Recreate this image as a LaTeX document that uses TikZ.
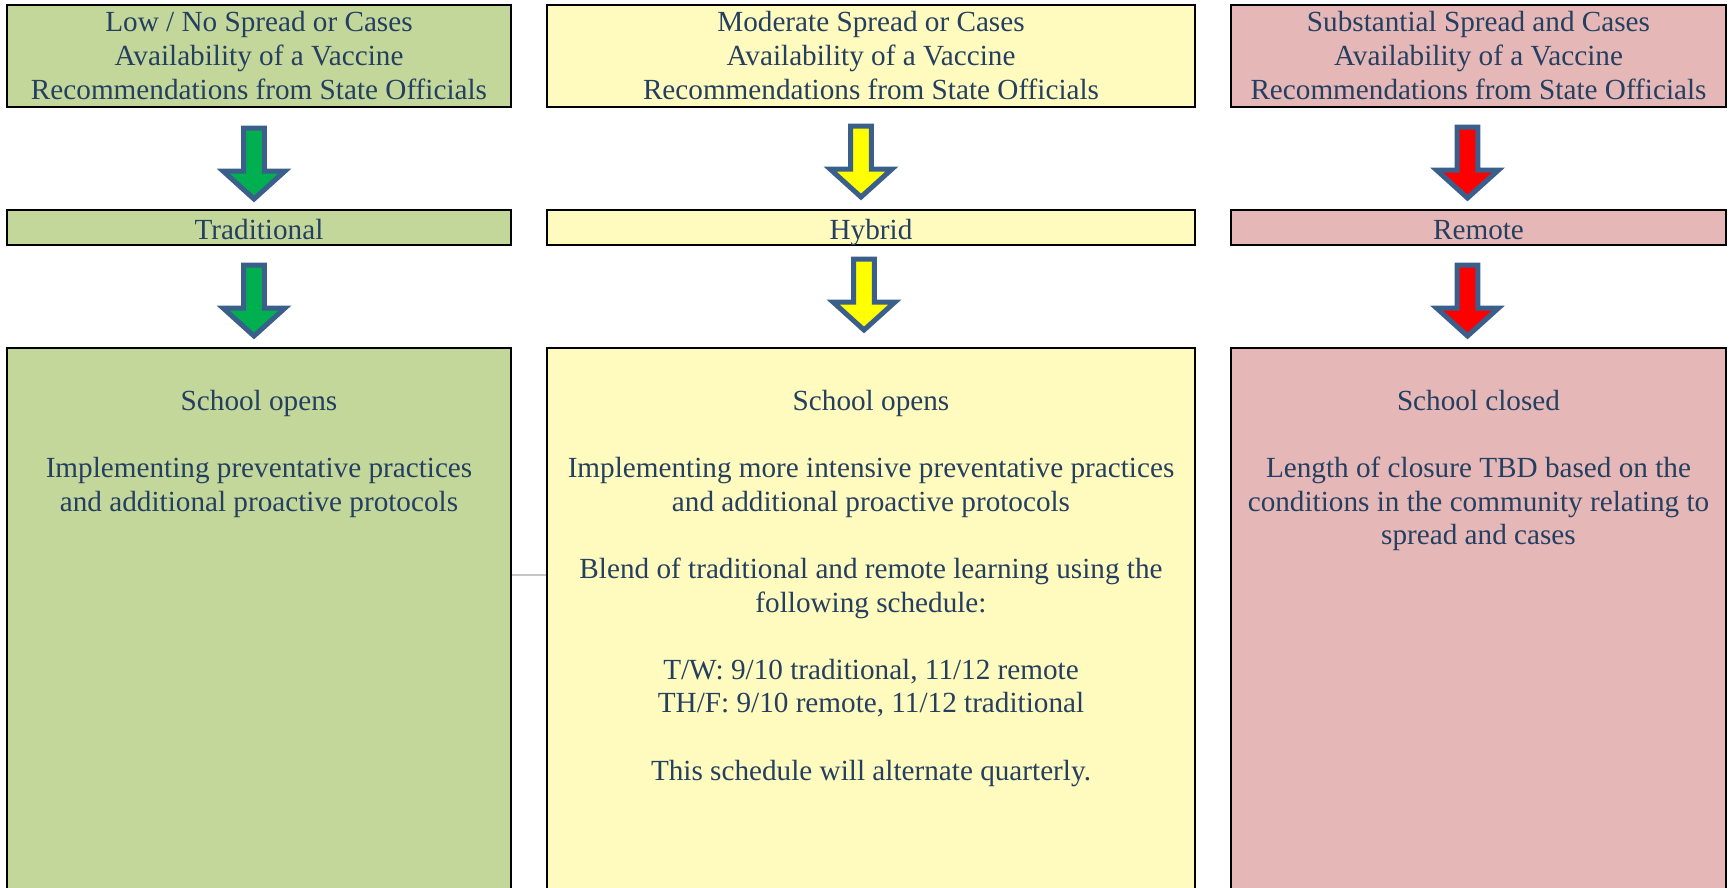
\documentclass[tikz,border=0pt]{standalone}
\usepackage{fontspec}
\setmainfont{Liberation Serif}
\usetikzlibrary{calc}
\definecolor{txtblue}{HTML}{243F60}
\definecolor{lowfill}{HTML}{C4D79B}
\definecolor{modfill}{HTML}{FFFABD}
\definecolor{subfill}{HTML}{E5B7B7}
\definecolor{arrgreen}{HTML}{00B050}
\definecolor{arryellow}{HTML}{FFFF00}
\definecolor{arrred}{HTML}{FF0000}
\definecolor{arrblue}{HTML}{3A5F8B}
\tikzset{
  condbox/.style={draw=black, line width=2, minimum height=102, inner sep=0, align=center,
    text=txtblue, font=\fontsize{29.2}{34}\selectfont},
  modebox/.style={draw=black, line width=2, minimum height=35, inner sep=0,
    text height=23, text depth=0, text=txtblue, font=\fontsize{29.2}{34}\selectfont},
  bodybox/.style={draw=black, line width=2, minimum height=600, anchor=north},
  bodytext/.style={anchor=north, align=center, inner sep=0, text=txtblue,
    font=\fontsize{29.2}{33.6}\selectfont},
  arrowline/.style={draw=arrblue, line width=5},
  pics/blockarrow/.style={code={
    \draw[arrowline, fill=#1] (-10.4,-35.5) -- (10.4,-35.5) -- (10.4,7.5) -- (31,7.5)
      -- (0,35.5) -- (-31,7.5) -- (-10.4,7.5) -- cycle;}}
}
\begin{document}
\begin{tikzpicture}[x=1pt,y=-1pt]
\useasboundingbox (0,0) rectangle (1733,887);
\clip (0,0) rectangle (1733,887);
% conditions
\node[condbox, fill=lowfill, minimum width=504] (lowcond) at (259,56)
  {Low / No Spread or Cases\\Availability of a Vaccine\\Recommendations from State Officials};
\node[condbox, fill=modfill, minimum width=648] (modcond) at (871,56)
  {Moderate Spread or Cases\\Availability of a Vaccine\\Recommendations from State Officials};
\node[condbox, fill=subfill, minimum width=495] (subcond) at (1478.5,56)
  {Substantial Spread and Cases\\Availability of a Vaccine\\Recommendations from State Officials};
% modes
\node[modebox, fill=lowfill, minimum width=504] (trad) at (259,227.5) {Traditional};
\node[modebox, fill=modfill, minimum width=648] (hybrid) at (871,227.5) {Hybrid};
\node[modebox, fill=subfill, minimum width=495] (remote) at (1478.5,227.5) {Remote};
% plans
\node[bodybox, fill=lowfill, minimum width=504] (lowbody) at (259,347) {};
\node[bodybox, fill=modfill, minimum width=648] (modbody) at (871,347) {};
\node[bodybox, fill=subfill, minimum width=495] (subbody) at (1478.5,347) {};
\node[bodytext] (lowtxt) at ([yshift=-43pt]lowbody.north)
  {School opens\\[33.6pt]Implementing preventative practices\\and additional proactive protocols};
\node[bodytext] (modtxt) at ([yshift=-43pt]modbody.north)
  {School opens\\[33.6pt]Implementing more intensive preventative practices\\and additional proactive protocols\\[33.6pt]
   Blend of traditional and remote learning using the\\following schedule:\\[33.6pt]
   T/W: 9/10 traditional, 11/12 remote\\TH/F: 9/10 remote, 11/12 traditional\\[33.6pt]
   This schedule will alternate quarterly.};
\node[bodytext] (subtxt) at ([yshift=-43pt]subbody.north)
  {School closed\\[33.6pt]Length of closure TBD based on the\\conditions in the community relating to\\spread and cases};
% arrows
\pic at ($(lowcond.south)!0.5!(trad.north)+(-5,5)$) {blockarrow=arrgreen};
\pic at ($(trad.south)!0.5!(lowbody.north)+(-5,4)$) {blockarrow=arrgreen};
\pic at ($(modcond.south)!0.5!(hybrid.north)+(-10,3)$) {blockarrow=arryellow};
\pic at ($(hybrid.south)!0.5!(modbody.north)+(-7,-2)$) {blockarrow=arryellow};
\pic at ($(subcond.south)!0.5!(remote.north)+(-11,4)$) {blockarrow=arrred};
\pic at ($(remote.south)!0.5!(subbody.north)+(-11,4)$) {blockarrow=arrred};
\draw[gray!45, line width=2] (lowbody.east |- 0,575) -- (modbody.west |- 0,575);
\end{tikzpicture}
\end{document}
